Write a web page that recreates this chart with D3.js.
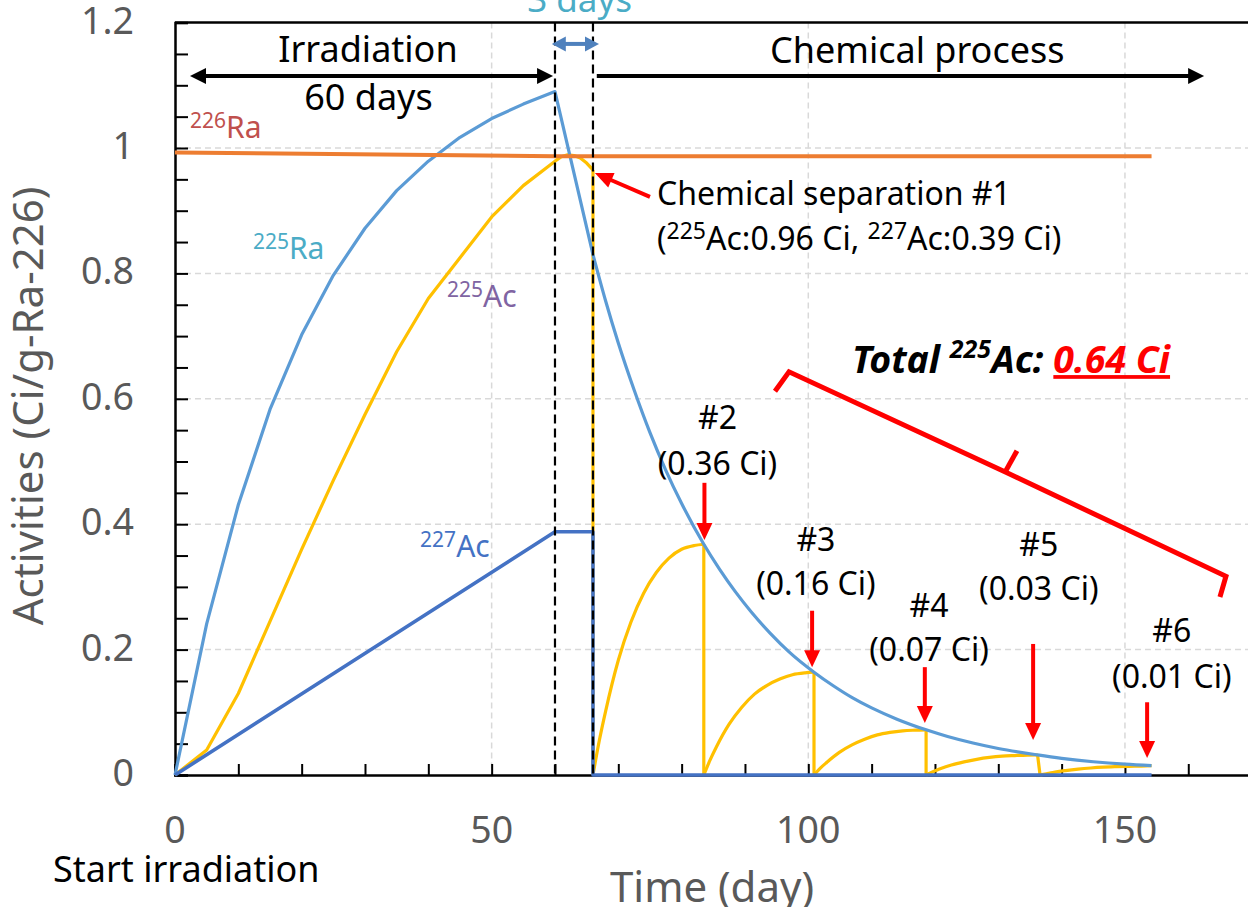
<!DOCTYPE html>
<html><head><meta charset="utf-8">
<script src="https://cdn.jsdelivr.net/npm/d3@7"></script>
<style>
html,body{margin:0;padding:0;background:#fff;overflow:hidden}
svg{display:block}
text{font-family:"Noto Sans",sans-serif}
</style>
</head><body>
<svg id="chart" width="1248" height="907"></svg>
<script>
// ---------- data ----------
const xTicks = [0, 50, 100, 150];
const xTickLabels = ["0", "50", "100", "150"];
const yTicks = [0, 0.2, 0.4, 0.6, 0.8, 1.0, 1.2];
const yTickLabels = ["0", "0.2", "0.4", "0.6", "0.8", "1", "1.2"];

const ra226 = [[0, 0.993], [60, 0.987], [154.2, 0.987]];

const ra225Irr = [[0, 0], [5, 0.241], [10, 0.431], [15, 0.583], [20, 0.702], [25, 0.797], [30, 0.872],
  [35, 0.932], [40, 0.979], [45, 1.017], [50, 1.047], [55, 1.070], [60, 1.090], [66, 0.830]];
const ra225Decay = [[66, 0.830], [68, 0.756], [70, 0.689], [72.5, 0.614], [75, 0.546], [77.5, 0.486],
  [80, 0.433], [83.5, 0.368], [86, 0.328], [88.5, 0.292], [91, 0.260], [94, 0.226], [97, 0.196],
  [100.9, 0.164], [104, 0.142], [107, 0.123], [110, 0.107], [114, 0.089], [118.6, 0.072], [122, 0.0614],
  [126, 0.051], [130, 0.0423], [136.2, 0.032], [140, 0.0266], [145, 0.0211], [150, 0.0172], [154.2, 0.015]];

const ac225Irr = [[0, 0], [5, 0.04], [10, 0.13], [15, 0.245], [20, 0.36], [25, 0.47], [30, 0.575],
  [35, 0.675], [40, 0.76], [45, 0.825], [50, 0.89], [55, 0.94], [60, 0.979], [61, 0.986], [62, 0.989],
  [63, 0.988], [64, 0.984], [65, 0.976], [66, 0.965]];
const ac225Sep1 = [[66, 0], [67, 0.055], [68, 0.102], [70, 0.183], [72, 0.244], [74, 0.290], [76, 0.323],
  [78, 0.346], [80, 0.360], [82, 0.366], [83.5, 0.368]];
const ac225Sep2 = [[83.5, 0], [84.5, 0.024], [85.5, 0.045], [87.5, 0.081], [89.5, 0.108], [91.5, 0.129],
  [93.5, 0.143], [95.5, 0.153], [97.5, 0.160], [99.5, 0.163], [100.9, 0.164]];
const ac225Sep3 = [[100.9, 0], [101.9, 0.011], [102.9, 0.020], [104.9, 0.036], [106.9, 0.048], [108.9, 0.057],
  [110.9, 0.064], [112.9, 0.068], [114.9, 0.0705], [116.9, 0.0715], [118.6, 0.072]];
const ac225Sep4 = [[118.6, 0], [119.6, 0.005], [120.6, 0.009], [122.6, 0.016], [124.6, 0.021], [126.6, 0.025],
  [128.6, 0.028], [130.6, 0.030], [132.6, 0.031], [134.6, 0.0318], [136.2, 0.032]];
const ac225Sep5 = [[136.6, 0], [137.6, 0.002], [138.6, 0.004], [140.6, 0.007], [142.6, 0.0094], [144.6, 0.0112],
  [146.6, 0.0125], [148.6, 0.0133], [150.6, 0.0139], [152.6, 0.0143], [154.2, 0.0148]];

const ac227 = [[0, 0], [60, 0.388], [66, 0.388], [66, 0], [154.2, 0]];

const phaseLines = [60, 66];   // irradiation end, separation #1

// separation annotations
const sepLabels = ["#2", "#3", "#4", "#5", "#6"];
const sepAmounts = ["(0.36 Ci)", "(0.16 Ci)", "(0.07 Ci)", "(0.03 Ci)", "(0.01 Ci)"];
const sepTextX = [85.66, 101.2, 119.06, 136.4, 157.4];
const sepLabelY = [0.552, 0.357, 0.252, 0.349, 0.212];
const sepAmountY = [0.478, 0.287, 0.182, 0.279, 0.139];
const sepArrowX = [83.6, 100.6, 118.4, 135.5, 153.5];
const sepArrowY0 = [0.466, 0.262, 0.172, 0.209, 0.116];
const sepArrowY1 = [0.375, 0.172, 0.083, 0.056, 0.027];

// bracket (Total 225Ac)
const bracket = [[94.74, 0.612], [96.95, 0.643], [131.37, 0.482], [165.95, 0.317], [165.0, 0.284]];
const bracketNotch = [[131.06, 0.483], [132.95, 0.517]];

// ---------- setup ----------
const svg = d3.select("#chart");
const W = 1248, H = 907;
const x = d3.scaleLinear().domain([0, 170]).range([175, 175 + 170 * 6.333]);
const y = d3.scaleLinear().domain([0, 1.2]).range([775, 22.6]);

const COL = {
  ra226: "#ed7d31", ra225: "#5b9bd5", ac225: "#ffc000", ac227: "#4472c4",
  grid: "#d9d9d9", tick: "#595959"
};

// grid
const g = svg.append("g");
g.selectAll(".hg").data(yTicks.filter(v => v > 0 && v < 1.2)).enter().append("line")
  .attr("x1", x(0)).attr("x2", W).attr("y1", d => y(d)).attr("y2", d => y(d))
  .attr("stroke", COL.grid).attr("stroke-width", 1.5).attr("stroke-dasharray", "6,4");
g.selectAll(".vg").data(xTicks.filter(v => v > 0)).enter().append("line")
  .attr("x1", d => x(d)).attr("x2", d => x(d)).attr("y1", y(1.2)).attr("y2", y(0))
  .attr("stroke", COL.grid).attr("stroke-width", 1.5).attr("stroke-dasharray", "6,4");

// axes
const xAxis = d3.axisBottom(x).tickValues(d3.range(0, 171, 10)).tickSize(-11).tickFormat("");
const gx = svg.append("g").attr("transform", `translate(0,${y(0)})`).call(xAxis);
gx.select(".domain").attr("stroke", "#000").attr("stroke-width", 2.5);
gx.selectAll(".tick line").attr("stroke", "#000").attr("stroke-width", 2);

const yAxis = d3.axisLeft(y).tickValues(d3.range(0, 1.2001, 0.05)).tickSize(-13).tickFormat("");
const gy = svg.append("g").attr("transform", `translate(${x(0)},0)`).call(yAxis);
gy.select(".domain").attr("stroke", "#000").attr("stroke-width", 2.5);
gy.selectAll(".tick line").attr("stroke", "#000").attr("stroke-width", 2);

// top border
svg.append("line").attr("x1", x(0)).attr("x2", W).attr("y1", y(1.2)).attr("y2", y(1.2))
  .attr("stroke", "#000").attr("stroke-width", 2.5);

// tick labels
svg.selectAll(".xtl").data(xTicks).enter().append("text")
  .attr("x", d => x(d)).attr("y", y(0) + 68).attr("text-anchor", "middle")
  .attr("font-size", 37.5).attr("fill", COL.tick).text((d, i) => xTickLabels[i]);
svg.selectAll(".ytl").data(yTicks).enter().append("text")
  .attr("x", 134).attr("y", d => y(d) + 11).attr("text-anchor", "end")
  .attr("font-size", 37.5).attr("fill", COL.tick).text((d, i) => yTickLabels[i]);

// axis titles
svg.append("text").attr("transform", `translate(43,${406})rotate(-90)`).attr("text-anchor", "middle")
  .attr("font-size", 42).attr("fill", COL.tick).text("Activities (Ci/g-Ra-226)");
svg.append("text").attr("x", 712).attr("y", 902).attr("text-anchor", "middle")
  .attr("font-size", 42).attr("fill", COL.tick).text("Time (day)");
svg.append("text").attr("x", 53).attr("y", 882)
  .attr("font-size", 36).attr("fill", "#000").text("Start irradiation");

// ---------- series ----------
const lin = d3.line().x(d => x(d[0])).y(d => y(d[1]));
const smooth = d3.line().x(d => x(d[0])).y(d => y(d[1])).curve(d3.curveMonotoneX);

const acSegs = [ac225Sep1, ac225Sep2, ac225Sep3, ac225Sep4, ac225Sep5];
const acPrev = [ac225Irr, ac225Sep1, ac225Sep2, ac225Sep3, ac225Sep4];
const sg = svg.append("g").attr("fill", "none").attr("stroke-linejoin", "round");
sg.append("path").attr("d", lin(ac225Irr)).attr("stroke", COL.ac225).attr("stroke-width", 3.2);
acSegs.forEach((s, i) => {
  const prev = acPrev[i];
  sg.append("path").attr("d", lin([prev[prev.length - 1], s[0]])).attr("stroke", COL.ac225).attr("stroke-width", 3.2);
  sg.append("path").attr("d", smooth(s)).attr("stroke", COL.ac225).attr("stroke-width", 3.2);
});
sg.append("path").attr("d", lin(ra225Irr)).attr("stroke", COL.ra225).attr("stroke-width", 3.2);
sg.append("path").attr("d", smooth(ra225Decay)).attr("stroke", COL.ra225).attr("stroke-width", 3.2);
sg.append("path").attr("d", lin(ra226)).attr("stroke", COL.ra226).attr("stroke-width", 4);
sg.append("path").attr("d", lin(ac227)).attr("stroke", COL.ac227).attr("stroke-width", 3.6);

// phase dashed lines
svg.selectAll(".ph").data(phaseLines).enter().append("line")
  .attr("x1", d => x(d)).attr("x2", d => x(d)).attr("y1", y(1.2)).attr("y2", y(0))
  .attr("stroke", "#000").attr("stroke-width", 2.2).attr("stroke-dasharray", "9,5");

// ---------- annotations ----------
function arrow(x0, y0, x1, y1, color, width, headLen, headW, both) {
  const p0 = [x(x0), y(y0)], p1 = [x(x1), y(y1)];
  const dx = p1[0] - p0[0], dy = p1[1] - p0[1], L = Math.hypot(dx, dy);
  const ux = dx / L, uy = dy / L, nx = -uy, ny = ux;
  const a = both ? headLen * 0.9 : 0;
  svg.append("line")
    .attr("x1", p0[0] + ux * a).attr("y1", p0[1] + uy * a)
    .attr("x2", p1[0] - ux * headLen * 0.9).attr("y2", p1[1] - uy * headLen * 0.9)
    .attr("stroke", color).attr("stroke-width", width);
  const head = (tip, sx, sy) => {
    const b = [tip[0] - sx * headLen, tip[1] - sy * headLen];
    svg.append("polygon").attr("points",
      [tip, [b[0] + nx * headW / 2, b[1] + ny * headW / 2], [b[0] - nx * headW / 2, b[1] - ny * headW / 2]]
        .map(p => p.join(",")).join(" ")).attr("fill", color);
  };
  head(p1, ux, uy);
  if (both) head(p0, -ux, -uy);
}

// top phase arrows
arrow(2.37, 1.115, 59.7, 1.115, "#000", 4, 16, 16, true);
arrow(66.6, 1.115, 162.5, 1.115, "#000", 4, 16, 16, false);
arrow(59.5, 1.166, 66.95, 1.166, "#4f81bd", 4, 14, 15, true);

svg.append("text").attr("x", x(30.47)).attr("y", y(1.137)).attr("text-anchor", "middle")
  .attr("font-size", 36).attr("fill", "#000").text("Irradiation");
svg.append("text").attr("x", x(30.55)).attr("y", y(1.061)).attr("text-anchor", "middle")
  .attr("font-size", 36).attr("fill", "#000").text("60 days");
svg.append("text").attr("x", x(117.2)).attr("y", y(1.136)).attr("text-anchor", "middle")
  .attr("font-size", 36).attr("fill", "#000").text("Chemical process");
svg.append("text").attr("x", x(63.9)).attr("y", y(1.217)).attr("text-anchor", "middle")
  .attr("font-size", 35).attr("fill", "#4bacc6").text("3 days");

// series labels with superscripts
function isoLabel(xv, yv, mass, sym, color) {
  const t = svg.append("text").attr("x", x(xv)).attr("y", y(yv)).attr("fill", color).attr("font-size", 30);
  t.append("tspan").attr("font-size", 21).attr("dy", -10).text(mass);
  t.append("tspan").attr("dy", 10).text(sym);
}
isoLabel(2.37, 1.016, "226", "Ra", "#c0504d");
isoLabel(12.3, 0.823, "225", "Ra", "#4bacc6");
isoLabel(42.95, 0.746, "225", "Ac", "#8064a2");
isoLabel(38.7, 0.348, "227", "Ac", "#4472c4");

// chemical separation #1
arrow(75.0, 0.922, 66.3, 0.960, "#ff0000", 4, 18, 16, false);
svg.append("text").attr("x", x(76.1)).attr("y", y(0.909)).attr("font-size", 32).attr("fill", "#000")
  .text("Chemical separation #1");
{
  const t = svg.append("text").attr("x", x(76.1)).attr("y", y(0.837)).attr("font-size", 32).attr("fill", "#000");
  t.append("tspan").text("(");
  t.append("tspan").attr("font-size", 23).attr("dy", -11).text("225");
  t.append("tspan").attr("dy", 11).text("Ac:0.96 Ci, ");
  t.append("tspan").attr("font-size", 23).attr("dy", -11).text("227");
  t.append("tspan").attr("dy", 11).text("Ac:0.39 Ci)");
}

// separations #2-#6
sepLabels.forEach((lab, i) => {
  svg.append("text").attr("x", x(sepTextX[i])).attr("y", y(sepLabelY[i])).attr("text-anchor", "middle")
    .attr("font-size", 32).attr("fill", "#000").text(lab);
  svg.append("text").attr("x", x(sepTextX[i])).attr("y", y(sepAmountY[i])).attr("text-anchor", "middle")
    .attr("font-size", 32).attr("fill", "#000").text(sepAmounts[i]);
  arrow(sepArrowX[i], sepArrowY0[i], sepArrowX[i], sepArrowY1[i], "#ff0000", 4, 17, 16, false);
});

// bracket
svg.append("path").attr("d", lin(bracket)).attr("fill", "none").attr("stroke", "#ff0000")
  .attr("stroke-width", 5).attr("stroke-linejoin", "miter");
svg.append("path").attr("d", lin(bracketNotch)).attr("fill", "none").attr("stroke", "#ff0000")
  .attr("stroke-width", 5);

// total text
{
  const t = svg.append("text").attr("x", x(106.9)).attr("y", y(0.641)).attr("font-size", 37.5)
    .attr("font-weight", 700).attr("font-style", "italic").attr("fill", "#000");
  t.append("tspan").text("Total ");
  t.append("tspan").attr("font-size", 25).attr("dy", -15).text("225");
  t.append("tspan").attr("dy", 15).text("Ac: ");
  t.append("tspan").attr("fill", "#ff0000").attr("text-decoration", "underline").text("0.64 Ci");
}
</script>
</body></html>
